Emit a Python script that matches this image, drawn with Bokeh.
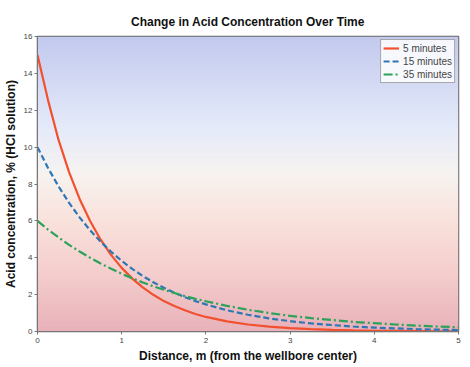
import numpy as np
from bokeh.plotting import figure
from bokeh.models import Range1d, FixedTicker
from bokeh.embed import file_html
from bokeh.resources import INLINE

# ---- data ----
distance = [0.0, 0.125, 0.25, 0.375, 0.5, 0.625, 0.75, 0.875, 1.0, 1.125, 1.25,
            1.375, 1.5, 1.625, 1.75, 1.875, 2.0, 2.25, 2.5, 2.75, 3.0, 3.25,
            3.5, 3.75, 4.0, 4.25, 4.5, 4.75, 5.0]
conc_5min = [15.0, 12.55, 10.39, 8.64, 7.19, 5.99, 4.98, 4.14, 3.45, 2.87, 2.39,
             1.99, 1.65, 1.38, 1.15, 0.95, 0.79, 0.55, 0.38, 0.26, 0.18, 0.13,
             0.09, 0.06, 0.04, 0.03, 0.02, 0.01, 0.01]
conc_15min = [10.0, 8.87, 7.87, 6.98, 6.19, 5.49, 4.87, 4.32, 3.83, 3.40, 3.01,
              2.67, 2.37, 2.10, 1.86, 1.65, 1.47, 1.15, 0.91, 0.71, 0.56, 0.44,
              0.35, 0.27, 0.21, 0.17, 0.13, 0.10, 0.08]
conc_35min = [6.0, 5.53, 5.10, 4.70, 4.34, 4.00, 3.69, 3.40, 3.13, 2.89, 2.66,
              2.45, 2.26, 2.09, 1.92, 1.77, 1.64, 1.39, 1.18, 1.00, 0.85, 0.73,
              0.62, 0.52, 0.45, 0.38, 0.32, 0.27, 0.23]
series_labels = ["5 minutes", "15 minutes", "35 minutes"]
x_ticks = [0, 1, 2, 3, 4, 5]
y_ticks = [0, 2, 4, 6, 8, 10, 12, 14, 16]

FONT = "Liberation Sans"

p = figure(frame_width=421, frame_height=295,
           output_backend="svg", toolbar_location=None,
           x_range=Range1d(0, 5), y_range=Range1d(0, 16),
           min_border_left=29, min_border_right=10, min_border_top=36,
           min_border_bottom=10)

# background gradient (style)
n = 256
img = np.empty((n, 1), dtype=np.uint32)
view = img.view(dtype=np.uint8).reshape((n, 1, 4))
stops_y = [0, 3, 6, 8.5, 11, 16]
stops_rgb = np.array([(232, 178, 186), (244, 205, 204), (250, 226, 220),
                      (247, 243, 240), (230, 235, 250), (195, 202, 238)],
                     dtype=float)
ys = np.linspace(0, 16, n)
for c in range(3):
    view[:, 0, c] = np.interp(ys, stops_y, stops_rgb[:, c]).astype(np.uint8)
view[:, 0, 3] = 255
p.image_rgba(image=[img], x=0, y=0, dw=5, dh=16)

p.line(distance, conc_5min, color="#f2502f", line_width=2.2,
       legend_label=series_labels[0])
p.line(distance, conc_15min, color="#2f77b4", line_width=2.2,
       line_dash="6 3", legend_label=series_labels[1])
p.line(distance, conc_35min, color="#2ca25a", line_width=2.2,
       line_dash="9 3 2 3", legend_label=series_labels[2])

p.title.text = "Change in Acid Concentration Over Time"
p.title.align = "center"
p.title.text_font = FONT
p.title.text_font_size = "12px"
p.title.text_font_style = "bold"
p.title.text_color = "#111111"
p.title.standoff = 15

p.xaxis.ticker = FixedTicker(ticks=x_ticks)
p.yaxis.ticker = FixedTicker(ticks=y_ticks)
p.xaxis.axis_label = "Distance, m (from the wellbore center)"
p.yaxis.axis_label = "Acid concentration, % (HCl solution)"
for ax in (p.xaxis, p.yaxis):
    ax.axis_label_text_font = FONT
    ax.axis_label_text_font_size = "12px"
    ax.axis_label_text_font_style = "bold"
    ax.axis_label_text_color = "#111111"
    ax.axis_label_standoff = 3
    ax.major_label_text_font = FONT
    ax.major_label_text_font_size = "8px"
    ax.major_label_text_color = "#444444"
    ax.major_label_standoff = 2
    ax.axis_line_color = "#777777"
    ax.major_tick_line_color = "#777777"
    ax.major_tick_out = 3
    ax.major_tick_in = 0
    ax.minor_tick_line_color = None
p.xaxis.major_label_standoff = 3

p.grid.grid_line_color = "#8a8aa0"
p.grid.grid_line_alpha = 0.3
p.outline_line_color = "#666666"
p.outline_line_width = 1.5
p.background_fill_color = "white"
p.border_fill_color = "white"

lg = p.legend[0]
lg.location = "top_right"
lg.margin = 3
lg.padding = 2
lg.spacing = 1
lg.label_text_font = FONT
lg.label_text_font_size = "10px"
lg.label_height = 12
lg.glyph_height = 12
lg.glyph_width = 16
lg.label_standoff = 4
lg.background_fill_color = "white"
lg.background_fill_alpha = 0.85
lg.border_line_color = "#555555"
lg.border_line_width = 1

open("out.html", "w").write(file_html(p, INLINE))
